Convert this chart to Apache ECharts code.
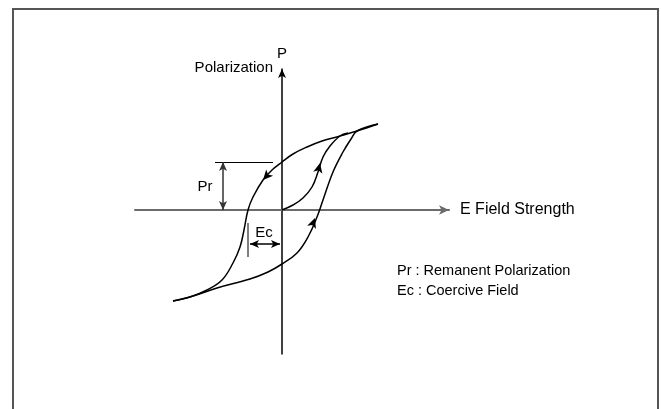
<!DOCTYPE html>
<html>
<head>
<meta charset="utf-8">
<script src="https://cdn.jsdelivr.net/npm/echarts@6/dist/echarts.min.js"></script>
<style>
  html, body { margin: 0; padding: 0; background: #fff; }
  #main { width: 661px; height: 409px; }
</style>
</head>
<body>
<div id="main"></div>
<script>
// hysteresis loop, [E, P] in arbitrary units
var virginCurve = [[0, 0], [1.1, 0.5], [2.1, 1.2], [3.0, 2.3], [3.6, 3.8], [4.1, 5.3], [4.8, 6.4], [5.8, 7.4], [6.6, 7.7]];
var upperBranch = [[9.6, 8.6], [7.5, 7.9], [5.8, 7.4], [4.0, 6.9], [2.5, 6.3], [1.1, 5.6], [0, 4.8], [-1.0, 4.0],
  [-1.9, 3.0], [-2.9, 1.3], [-3.4, 0], [-3.8, -2.0], [-4.2, -3.7], [-4.9, -5.3], [-6.0, -7.0], [-7.5, -8.0],
  [-9.2, -8.7], [-10.9, -9.1]];
var lowerBranch = [[-10.9, -9.1], [-8.9, -8.6], [-6.5, -7.8], [-3.2, -6.9], [-1.4, -6.2], [0, -5.4], [1.5, -4.3],
  [2.6, -2.7], [3.5, -0.7], [4.1, 1.0], [5.1, 3.8], [6.1, 5.8], [6.9, 7.1], [7.5, 7.9], [9.6, 8.6]];

// arrow heads on the curves: where they sit, and the point they come from
var arrowAt = [[3.8, 4.7], [-1.9, 3.0], [3.3, -0.8]];
var arrowFrom = [[3.6, 3.8], [-1.0, 4.0], [2.6, -2.7]];

var remanentP = 4.8;   // Pr
var coerciveE = -3.4;  // Ec

var xRange = [-14.7, 16.7];
var yRange = [-14.4, 14.1];

var font = 'Liberation Sans, Arial, sans-serif';
var chart = echarts.init(document.getElementById('main'));

function curve(data) {
  return {
    type: 'line', data: data, smooth: 0.4, showSymbol: false, silent: true,
    lineStyle: { color: '#000', width: 1.5 }
  };
}

var option = {
  animation: false,
  grid: { left: 135, right: 212, top: 69, bottom: 55 },
  xAxis: {
    type: 'value', min: xRange[0], max: xRange[1],
    axisLine: { onZero: true, lineStyle: { color: '#6b6b6b', width: 2 }, symbol: ['none', 'arrow'], symbolSize: [7, 10] },
    axisTick: { show: false }, axisLabel: { show: false }, splitLine: { show: false },
    name: 'E Field Strength', nameLocation: 'end', nameGap: 11,
    nameTextStyle: { color: '#000', fontSize: 16, fontFamily: font }
  },
  yAxis: {
    type: 'value', min: yRange[0], max: yRange[1],
    axisLine: { onZero: true, lineStyle: { color: '#000', width: 1.5 }, symbol: ['none', 'arrow'], symbolSize: [6, 9] },
    axisTick: { show: false }, axisLabel: { show: false }, splitLine: { show: false },
    name: 'P', nameLocation: 'end', nameGap: 8,
    nameTextStyle: { color: '#000', fontSize: 15, fontFamily: font }
  },
  graphic: [
    { type: 'polyline', shape: { points: [[13, 412], [13, 9], [658, 9], [658, 412]] },
      style: { stroke: '#555', lineWidth: 2, fill: null } },
    { type: 'text', left: 397, top: 263,
      style: { text: 'Pr : Remanent Polarization', fill: '#000', font: '14.5px ' + font } },
    { type: 'text', left: 397, top: 283,
      style: { text: 'Ec : Coercive Field', fill: '#000', font: '14.5px ' + font } }
  ],
  series: [
    curve(virginCurve),
    curve(upperBranch),
    curve(lowerBranch),
    {
      type: 'scatter', data: arrowAt, symbol: 'arrow', symbolSize: [7, 10], silent: true,
      itemStyle: { color: '#000', opacity: 1 }
    },
    {
      type: 'scatter', symbolSize: 0, silent: true, clip: false,
      itemStyle: { opacity: 1 },
      data: [
        { value: [-7.7, 2.3], label: { formatter: 'Pr', position: 'inside' } },
        { value: [-1.8, -2.3], label: { formatter: 'Ec', position: 'inside' } },
        { value: [-0.9, 14.2], label: { formatter: 'Polarization', position: 'left', distance: 0 } }
      ],
      label: { show: true, color: '#000', fontSize: 15, fontFamily: font },
      markLine: {
        silent: true, symbol: 'none', label: { show: false },
        lineStyle: { color: '#000', width: 1, type: 'solid' },
        data: [
          [{ coord: [-6.7, remanentP] }, { coord: [-0.9, remanentP] }],
          [{ coord: [-5.9, remanentP], symbol: 'arrow', symbolSize: [6, 9] },
           { coord: [-5.9, 0], symbol: 'arrow', symbolSize: [6, 9], lineStyle: { color: '#333', width: 1.5 } }],
          [{ coord: [coerciveE, -1.3] }, { coord: [coerciveE, -4.7], lineStyle: { color: '#555', width: 1.5 } }],
          [{ coord: [-3.2, -3.4], symbol: 'arrow', symbolSize: [6, 9] },
           { coord: [-0.2, -3.4], symbol: 'arrow', symbolSize: [6, 9], lineStyle: { color: '#000', width: 1.5 } }]
        ]
      }
    }
  ]
};
chart.setOption(option);

// point each arrow head along its curve
var rotations = arrowAt.map(function (p, i) {
  var a = chart.convertToPixel({ gridIndex: 0 }, arrowFrom[i]);
  var b = chart.convertToPixel({ gridIndex: 0 }, p);
  return Math.atan2(-(b[0] - a[0]), -(b[1] - a[1])) * 180 / Math.PI;
});
chart.setOption({
  series: [{}, {}, {}, {
    data: arrowAt.map(function (p, i) { return { value: p, symbolRotate: rotations[i] }; })
  }]
});
</script>
</body>
</html>
